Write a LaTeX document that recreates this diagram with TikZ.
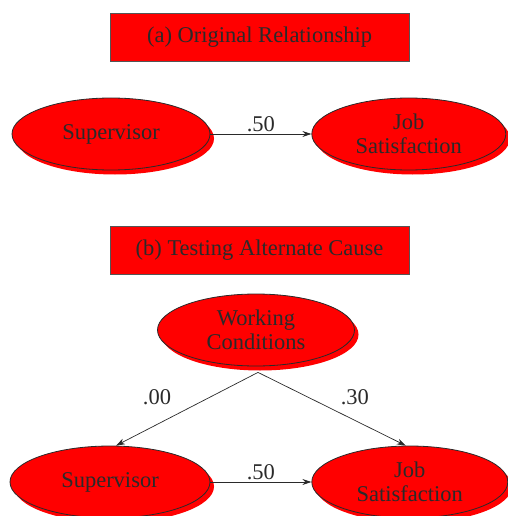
\documentclass[tikz,border=0pt]{standalone}
\usepackage{fontspec}
\setmainfont{Liberation Serif}
\usepackage{xcolor}
\usepackage{tikz}
\usetikzlibrary{arrows.meta,positioning,shapes.geometric,shadows}
\definecolor{ink}{HTML}{2A2A2A}
\definecolor{redfill}{HTML}{FF0000}
\definecolor{boxshade}{HTML}{6A1010}
\tikzset{
  every node/.style={font=\fontsize{22.5}{24}\selectfont,text=ink},
  title/.style={draw=ink!80,fill=redfill,minimum width=299pt,minimum height=48pt,inner sep=0pt,
    drop shadow={shadow xshift=0.6pt,shadow yshift=-1.4pt,fill=boxshade,draw=none,opacity=1}},
  var/.style={ellipse,draw=ink,line width=0.8pt,fill=redfill,align=center,inner sep=0pt,
    minimum width=198pt,minimum height=72pt,
    drop shadow={shadow xshift=4pt,shadow yshift=-4.5pt,fill=redfill,draw=none,opacity=1}},
  path/.style={-{Stealth[length=9pt,width=6pt]},line width=0.7pt,draw=ink},
  coef/.style={inner sep=2pt}
}
\begin{document}
\begin{tikzpicture}[x=1pt,y=-1pt,node distance=101pt]
  \useasboundingbox (0,0) rectangle (507,516);
  % (a) original relationship
  \node[title] (titleA) at (259.5,37) {(a) Original Relationship};
  \node[var] (supA) at (111,134) {Supervisor};
  \node[var,minimum width=194pt,right=of supA] (jobA) {Job\\Satisfaction};
  \draw[path] (supA) -- node[coef,above] {.50} (jobA);

  % (b) testing alternate cause
  \node[title] (titleB) at (259.5,250) {(b) Testing Alternate Cause};
  \node[var,minimum width=197pt] (work) at (256,330) {Working\\Conditions};
  \node[var,minimum width=200pt] (supB) at (110,482) {Supervisor};
  \node[var,minimum width=196pt,right=101pt of supB] (jobB) {Job\\Satisfaction};
  \coordinate (workfoot) at ([xshift=2pt,yshift=-6pt]work.south);
  \draw[path] (workfoot) -- node[coef,pos=0.5,xshift=-30pt,yshift=12pt] {.00} ([xshift=6pt]supB.north);
  \draw[path] (workfoot) -- node[coef,pos=0.5,xshift=23pt,yshift=12pt] {.30} ([xshift=-4pt]jobB.north);
  \draw[path] (supB) -- node[coef,above] {.50} (jobB);
\end{tikzpicture}
\end{document}
